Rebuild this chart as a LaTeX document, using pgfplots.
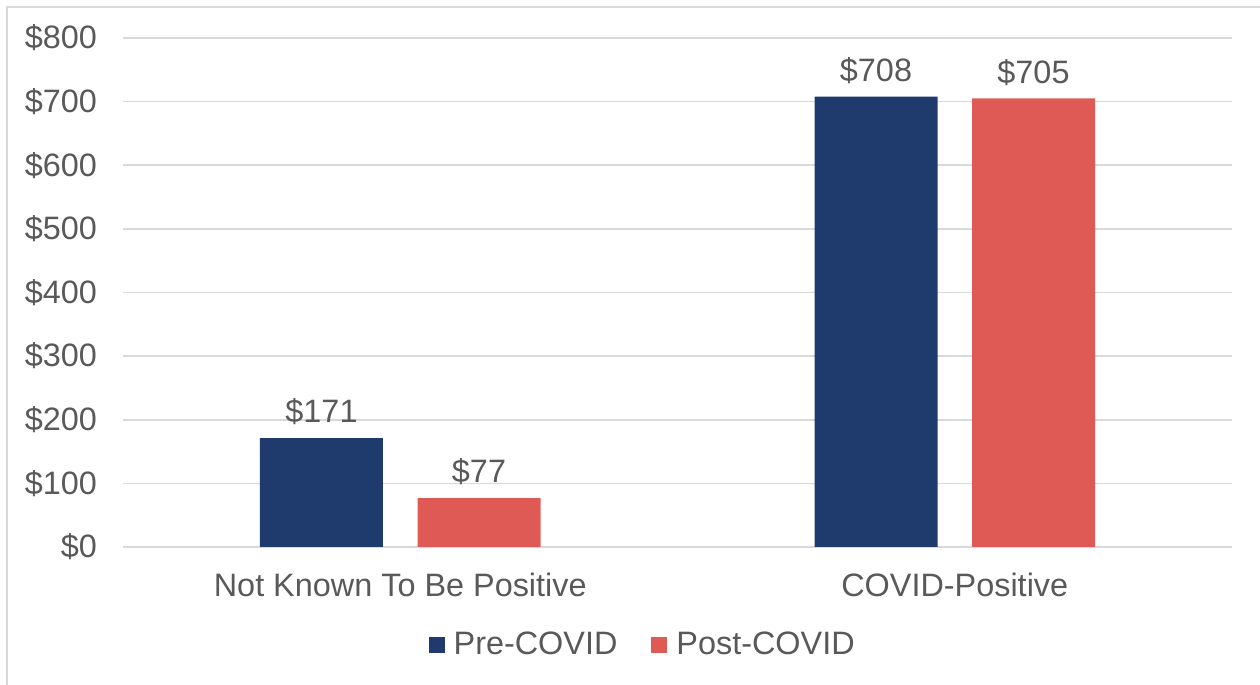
\documentclass[border=0pt]{standalone}
\usepackage{fontspec}
\setmainfont{Liberation Sans}
\usepackage{pgfplots}
\pgfplotsset{compat=1.18}
\definecolor{navy}{HTML}{1F3A6D}
\definecolor{coral}{HTML}{E05A55}
\definecolor{txt}{HTML}{595959}
\definecolor{gridc}{HTML}{D9D9D9}

\begin{document}
\begin{tikzpicture}
\path[use as bounding box] (-61.5pt,-69pt) rectangle (568.5pt,273.5pt);
\draw[gridc, line width=0.8pt] (-58pt,-70pt) -- (-58pt,270pt) -- (570pt,270pt);
\begin{axis}[
    at={(0pt,0pt)}, anchor=south west,
    scale only axis, width=554.5pt, height=254.5pt,
    ybar=17.25pt, bar width=61.5pt,
    xmin=-0.5, xmax=1.5, ymin=0, ymax=800,
    xtick={0,1}, xticklabels={Not Known To Be Positive, COVID-Positive},
    ytick={0,100,...,800},
    axis line style={draw=none},
    tick style={draw=none},
    ymajorgrids, grid style={gridc, line width=0.8pt},
    font=\fontsize{16.2}{18}\selectfont, every tick label/.append style={txt},
    /pgf/number format/assume math mode=true,
    yticklabel={\$\pgfmathprintnumber{\tick}},
    yticklabel style={xshift=-9.5pt},
    xticklabel style={yshift=-5pt},
    nodes near coords={\$\pgfmathprintnumber{\pgfplotspointmeta}},
    nodes near coords style={txt, yshift=3pt},
    legend style={draw=none, at={(0.4695,-0.1925)}, anchor=center,
        legend columns=-1, text=txt, /tikz/every even column/.append style={column sep=15pt}},
    legend image code/.code={\fill[#1] (0pt,-4pt) rectangle (8pt,4pt); \path (10.5pt,0pt);},
    clip=false,
]
\draw[gridc, line width=0.8pt] (rel axis cs:0,0) -- (rel axis cs:1,0);
\addplot[fill=navy, draw=none] coordinates {(0,171) (1,708)};
\addlegendentry{Pre-COVID}
\addplot[fill=coral, draw=none] coordinates {(0,77) (1,705)};
\addlegendentry{Post-COVID}
\end{axis}
\end{tikzpicture}
\end{document}
